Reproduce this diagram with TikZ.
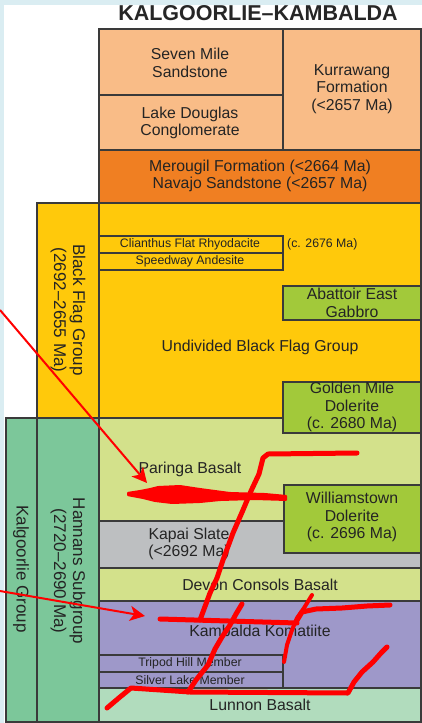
\documentclass[tikz,border=0pt]{standalone}
\usepackage{fontspec}
\setmainfont{Liberation Sans}
\usetikzlibrary{fit,arrows.meta}
\definecolor{bgblue}{HTML}{DAEDF2}
\definecolor{edge}{HTML}{3A3A3A}
\definecolor{ink}{HTML}{242424}
\definecolor{peach}{HTML}{F9BC87}
\definecolor{dorange}{HTML}{F07F22}
\definecolor{bfyellow}{HTML}{FFC90B}
\definecolor{dolgreen}{HTML}{A2C93A}
\definecolor{basalt}{HTML}{D3E18B}
\definecolor{slate}{HTML}{BDBFC1}
\definecolor{komat}{HTML}{9E98C9}
\definecolor{lunnon}{HTML}{B1DCBD}
\definecolor{colgreen}{HTML}{7CC79A}
\definecolor{scrib}{HTML}{FF0000}
\begin{document}
\begin{tikzpicture}[x=1pt,y=-1pt,
  lay/.style={draw=edge, line width=1.3pt, inner sep=0pt, outer sep=0pt},
  txt/.style={text=ink, align=center, font=\fontsize{15.8}{17.5}\selectfont, inner sep=0pt},
  smalltxt/.style={text=ink, align=center, font=\fontsize{12.3}{14}\selectfont, inner sep=0pt},
  rottxt/.style={text=ink, align=center, font=\fontsize{17}{19}\selectfont, inner sep=0pt, rotate=-90},
  ttl/.style={text=black!85, font=\fontsize{21.5}{24}\selectfont\bfseries, inner sep=0pt},
  pen/.style={draw=scrib, line width=5pt, line cap=round, line join=round},
  arr/.style={draw=scrib, line width=2pt, -{Stealth[length=15pt,width=15pt,inset=4pt]}}
]
\useasboundingbox (0,0) rectangle (422,723);
\fill[bgblue] (0,0) rectangle (422,723);
\fill[white] (4,5) rectangle (422,723);

\node[ttl] (title) at (258,13) {KALGOORLIE–KAMBALDA};

% upper formations
\node[lay, fill=peach, fit={(99,29)(283,95)}] (seven) {};
\node[lay, fill=peach, fit={(99,95)(283,150)}] (lake) {};
\node[lay, fill=peach, fit={(283,29)(421,150)}] (kurr) {};
\node[txt] (sevenT) at (190,63) {Seven Mile\\Sandstone};
\node[txt] (lakeT) at (190,123) {Lake Douglas\\Conglomerate};
\node[txt] (kurrT) at (352,89) {Kurrawang\\Formation\\(<2657 Ma)};

\node[lay, fill=dorange, fit={(99,150)(421,203)}] (merou) {};
\node[txt] (merouT) at (260,176) {Merougil Formation (<2664 Ma)\\Navajo Sandstone (<2657 Ma)};

% Black Flag Group
\node[lay, fill=bfyellow, fit={(37,203)(99,418)}] (bfcol) {};
\node[lay, fill=bfyellow, fit={(99,203)(421,418)}] (bfmain) {};
\node[rottxt] (bfcolT) at (68,310) {Black Flag Group\\(2692–2655 Ma)};
\node[lay, fill=bfyellow, fit={(99,236)(283,253)}] (clian) {};
\node[lay, fill=bfyellow, fit={(99,253)(283,270)}] (speed) {};
\node[smalltxt] (clianT) at (190,244.5) {Clianthus Flat Rhyodacite};
\node[smalltxt] (speedT) at (190,261.5) {Speedway Andesite};
\node[smalltxt, anchor=west] (clianAge) at (287,244.5) {(c. 2676 Ma)};
\node[lay, fill=dolgreen, fit={(283,286)(421,320)}] (abat) {};
\node[txt] (abatT) at (352,303) {Abattoir East\\Gabbro};
\node[txt] (bfT) at (260,347) {Undivided Black Flag Group};

% Kalgoorlie Group
\node[lay, fill=basalt, fit={(99,418)(421,521)}] (paringa) {};
\node[lay, fill=dolgreen, fit={(283,382)(421,433)}] (golden) {};
\node[txt] (goldenT) at (352,407) {Golden Mile\\Dolerite\\(c. 2680 Ma)};
\node[txt] (paringaT) at (190,469) {Paringa Basalt};
\node[lay, fill=slate, fit={(99,521)(421,568)}] (kapai) {};
\node[txt] (kapaiT) at (189,544) {Kapai Slate\\(<2692 Ma)};
\node[lay, fill=dolgreen, fit={(284,485)(421,553)}] (william) {};
\node[txt] (williamT) at (352,517) {Williamstown\\Dolerite\\(c. 2696 Ma)};
\node[lay, fill=basalt, fit={(99,568)(421,601)}] (devon) {};
\node[txt] (devonT) at (260,585) {Devon Consols Basalt};
\node[lay, fill=komat, fit={(99,601)(421,688)}] (kamb) {};
\node[txt] (kambT) at (260,631) {Kambalda Komatiite};
\node[lay, fill=komat, fit={(99,655)(283,672)}] (tripod) {};
\node[lay, fill=komat, fit={(99,672)(283,688)}] (silver) {};
\node[smalltxt] (tripodT) at (190,663.5) {Tripod Hill Member};
\node[smalltxt] (silverT) at (190,680) {Silver Lake Member};
\node[lay, fill=lunnon, fit={(99,688)(421,722)}] (lunn) {};
\node[txt] (lunnT) at (260,705) {Lunnon Basalt};
\node[lay, fill=colgreen, fit={(6,418)(37,722)}] (kalcol) {};
\node[lay, fill=colgreen, fit={(37,418)(99,722)}] (hancol) {};
\node[rottxt] (kalT) at (21,569) {Kalgoorlie Group};
\node[rottxt] (hanT) at (68,571) {Hannans Subgroup\\(2720–2690 Ma)};

% red annotations
\coordinate (a1s) at (0,310);
\coordinate (a1e) at (147,483);
\coordinate (a2s) at (0,591);
\coordinate (a2e) at (145,616);
\draw[arr] (a1s) -- (a1e);
\draw[arr] (a2s) -- (a2e);

\fill[scrib, rounded corners=1pt] (127,492) -- (140,490) -- (150,488) -- (158,486) -- (180,485)
  -- (200,488) -- (230,492) -- (265,493) -- (287,495) -- (287,501) -- (255,500) -- (220,501)
  -- (200,503) -- (172,504) -- (155,502) -- (143,499) -- (127,496) -- cycle;

\draw[pen] (357,453) -- (268,454) -- (263,458) -- (259,474) -- (251,491) -- (243,510)
  -- (233,533) -- (223,560) -- (217,578) -- (210,593) -- (200,620);
\draw[pen] (242,604) -- (236,614) -- (230,625) -- (222,637) -- (215,649) -- (208,665)
  -- (196,680) -- (188,692);
\draw[pen] (160,619) -- (297,623);
\draw[pen] (296,622) -- (302,612) -- (316,609) -- (342,608) -- (367,606) -- (390,605);
\draw[draw=scrib, line width=4pt, line cap=round, line join=round]
  (312,595) -- (304,608) -- (297,618) -- (292,630) -- (287,645) -- (284,662);
\draw[pen] (107,708) -- (120,697) -- (131,688) -- (190,692) -- (348,693) -- (354,682)
  -- (362,672) -- (373,662) -- (381,653) -- (387,647);
\end{tikzpicture}
\end{document}
